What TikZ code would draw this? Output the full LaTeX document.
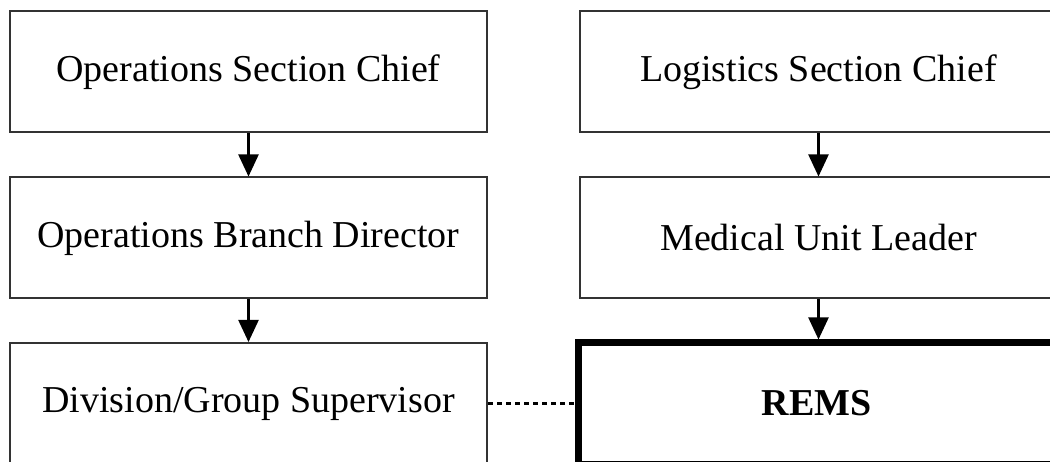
\documentclass[tikz,border=0pt]{standalone}
\usepackage{fontspec}
\setmainfont{Liberation Serif}
\usetikzlibrary{arrows.meta}
\begin{document}
\begin{tikzpicture}[x=1pt,y=-1pt,
  box/.style={draw=black!80,line width=2pt,minimum width=477pt,minimum height=121pt,inner sep=0pt,font=\fontsize{38}{40}\selectfont},
  remsbox/.style={draw=black,line width=7pt,minimum width=476pt,minimum height=121pt,inner sep=0pt,font=\fontsize{38}{40}\selectfont\bfseries},
  arr/.style={line width=2.2pt,-{Triangle[length=22pt,width=20pt]}},
  link/.style={line width=3pt,dash pattern=on 5pt off 4pt}]
\useasboundingbox (0,0) rectangle (1050,462);
\clip (0,0) rectangle (1050,462);
\node[box] (osc) at (248.5,72) {Operations Section Chief};
\node[box] (obd) at (248.5,238) {Operations Branch Director};
\node[box] (dgs) at (248.5,403.5) {Division/Group Supervisor};
\node[box] (lsc) at (818.5,72) {Logistics Section Chief};
\node[box] (mul) at (818.5,238) {Medical Unit Leader};
\node[remsbox] (rems) at (816.5,403.5) {REMS};
\draw[arr] (osc) -- (obd);
\draw[arr] (obd) -- (dgs);
\draw[arr] (lsc.south) -- (mul.north);
\draw[arr] (mul.south) -- (mul.south |- rems.north);
\draw[link] (dgs.east) -- (rems.west);
\end{tikzpicture}
\end{document}
